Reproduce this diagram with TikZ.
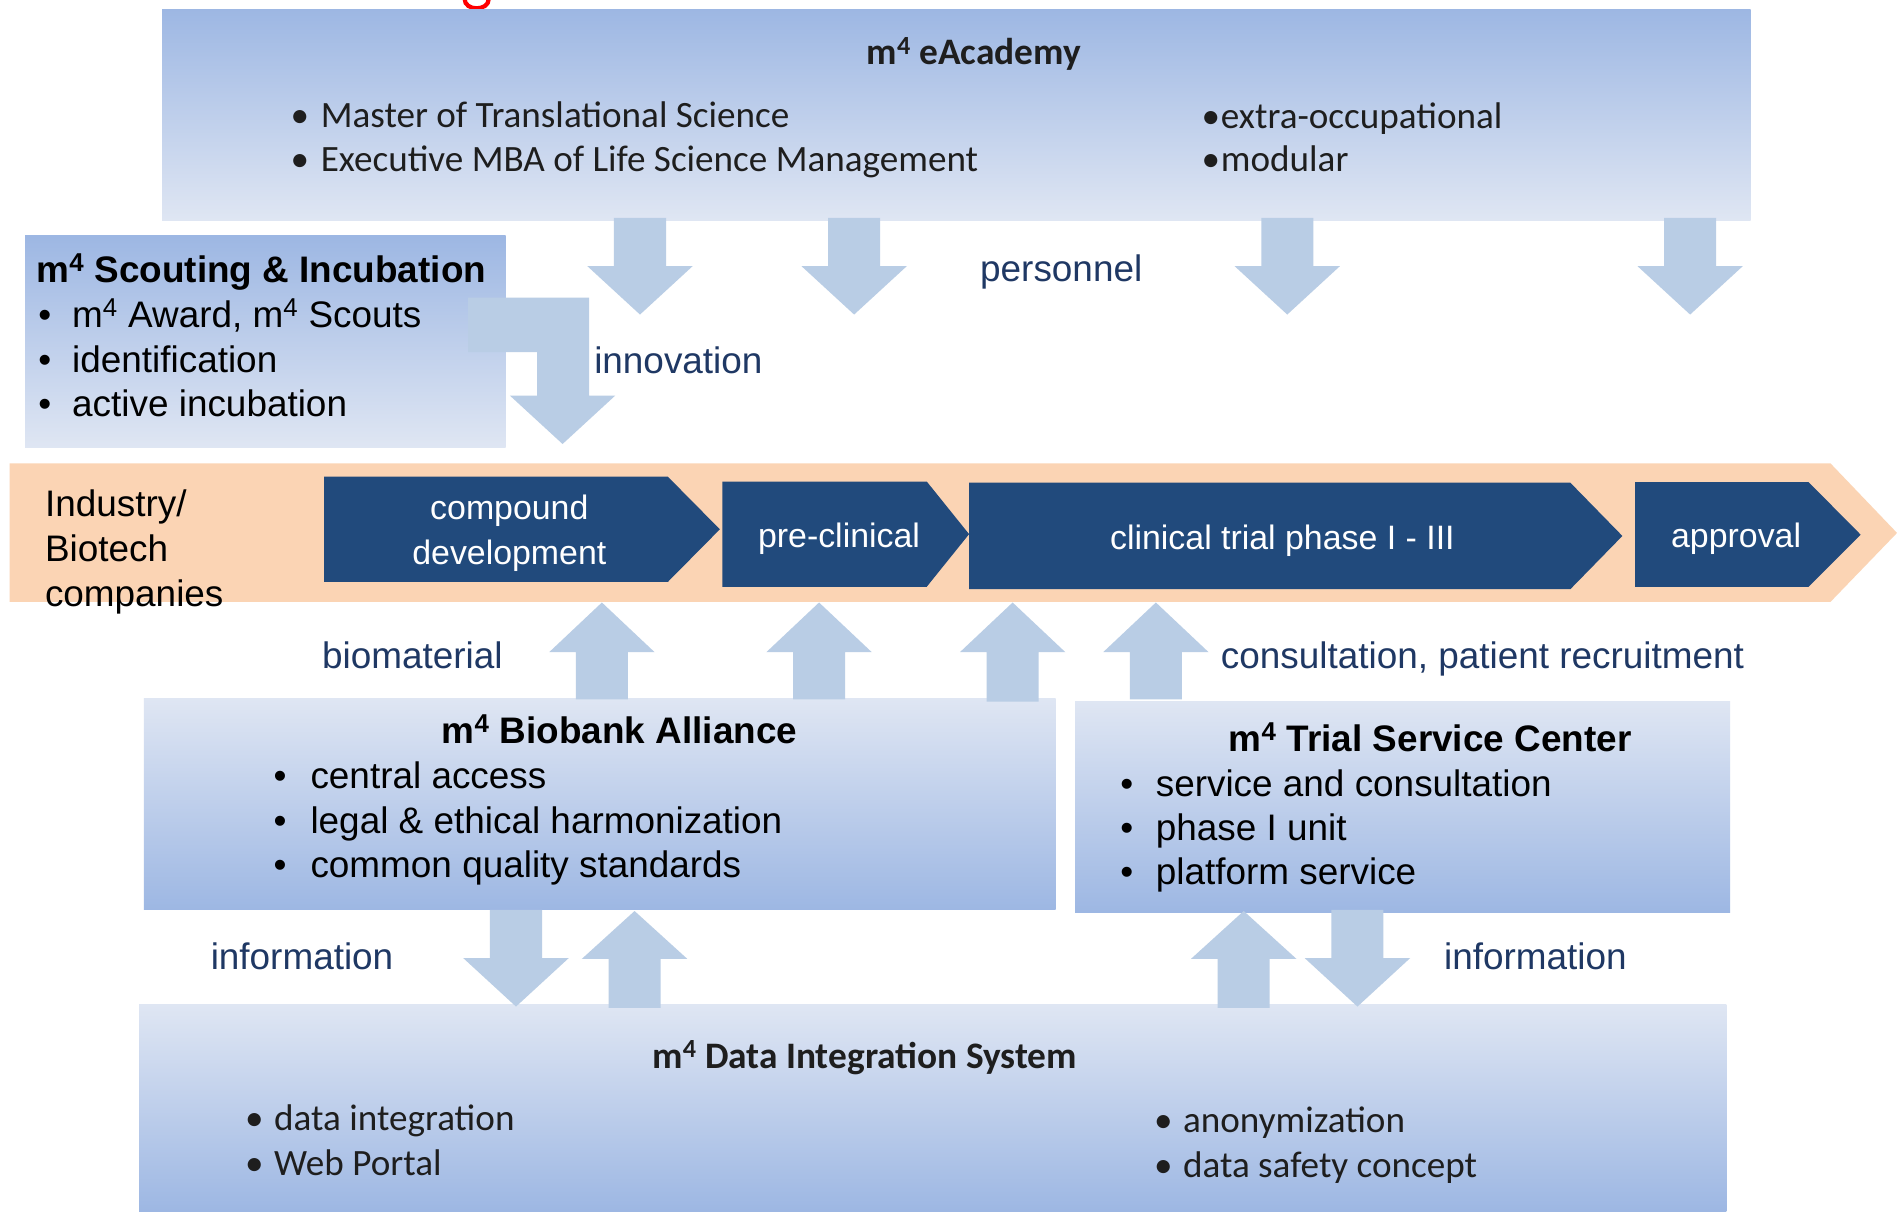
\documentclass[tikz,border=0pt]{standalone}
\usepackage{fontspec}
\setmainfont{Liberation Sans}
\newfontfamily\calib{Carlito}
\definecolor{boxdark}{HTML}{9DB7E3}
\definecolor{boxlight}{HTML}{DFE6F3}
\definecolor{arrowblue}{HTML}{B9CDE5}
\definecolor{bandorange}{HTML}{FBD4B4}
\definecolor{chevblue}{HTML}{214A7C}
\definecolor{labelblue}{HTML}{1F3864}
\definecolor{textdark}{HTML}{1E1E1E}
\newcommand\bl[1]{\makebox[#1pt][l]{•}}
\newcommand\fatdown[4]{\fill[fat] (#1-21.5,#2) -- (#1+21.5,#2) -- (#1+21.5,#3) -- (#1+43.5,#3) -- (#1,#4) -- (#1-43.5,#3) -- (#1-21.5,#3) -- cycle;}
\newcommand\fatup[4]{\fill[fat] (#1-21.5,#2) -- (#1+21.5,#2) -- (#1+21.5,#3) -- (#1+43.5,#3) -- (#1,#4) -- (#1-43.5,#3) -- (#1-21.5,#3) -- cycle;}
\tikzset{
  lbl/.style={font={\fontsize{30.5}{37}\selectfont}, text=labelblue, inner sep=0, anchor=base west},
  txt/.style={font={\fontsize{30.5}{37}\selectfont}, text=black, inner sep=0, anchor=base west},
  hdr/.style={font={\fontsize{30.5}{37}\selectfont\bfseries}, text=black, inner sep=0, anchor=base west},
  ctx/.style={font={\calib\fontsize{30.7}{37}\selectfont}, text=textdark, inner sep=0, anchor=base west},
  ctxb/.style={font={\calib\fontsize{30.9}{37}\selectfont\bfseries}, text=textdark, inner sep=0, anchor=base west},
  chevtxt/.style={font={\fontsize{28}{37}\selectfont}, text=white, inner sep=0, anchor=base},
  chev/.style={fill=chevblue},
  fat/.style={fill=arrowblue},
  darktop/.style={top color=boxdark, bottom color=boxlight},
  lighttop/.style={top color=boxlight, bottom color=boxdark},
}
\begin{document}
\begin{tikzpicture}[x=1pt, y=-1pt]
\useasboundingbox (0,0) rectangle (1568,1001);
\fill[white] (0,0) rectangle (1568,1001);

% red fragment of a cut-off title
\draw[red, line width=3.5pt] (384,-1) .. controls (384,9.5) and (404,9.5) .. (404,-1);

% eAcademy
\shade[darktop] (134,7.5) rectangle (1447,182);
\node[ctxb, anchor=base] (eatitle) at (805,53.7) {m\textsuperscript{4} eAcademy};
\node[ctx] (ea1) at (240,105.5) {\bl{25}Master of Translational Science};
\node[ctx] (ea2) at (240,141.9) {\bl{25}Executive MBA of Life Science Management};
\node[ctx] (ea3) at (993,106.1) {\bl{16}extra-occupational};
\node[ctx] (ea4) at (993,141.9) {\bl{16}modular};

% Scouting & Incubation
\shade[darktop] (20.7,195) rectangle (418,370);
\node[hdr] (sctitle) at (30,233.7) {m\textsuperscript{4} Scouting \& Incubation};
\node[txt] (sc1) at (31.5,270.6) {\bl{28}m\textsuperscript{4} Award, m\textsuperscript{4} Scouts};
\node[txt] (sc2) at (31.5,307.8) {\bl{28}identification};
\node[txt] (sc3) at (31.5,344.4) {\bl{28}active incubation};

% down arrows from eAcademy
\fatdown{529}{180}{220}{260}
\fatdown{706}{180}{220}{260}
\fatdown{1064}{180}{220}{260}
\fatdown{1397}{180}{220}{260}
\node[lbl] (personnel) at (810,232.8) {personnel};

% bent arrow (innovation)
\fill[fat] (387,246) -- (487,246) -- (487,327) -- (508.5,327) -- (465,367) -- (421.5,327) -- (444,327) -- (444,291) -- (387,291) -- cycle;
\node[lbl] (innovation) at (491,308.6) {innovation};

% orange band
\fill[bandorange] (8,383) -- (1513,383) -- (1568,440.5) -- (1513,497.5) -- (8,497.5) -- cycle;
\node[txt] (ind1) at (37,427.1) {Industry/};
\node[txt] (ind2) at (37,464.3) {Biotech};
\node[txt] (ind3) at (37,501.5) {companies};

% chevrons
\fill[chev] (268,394) -- (552,394) -- (595,437.5) -- (552,481) -- (268,481) -- cycle;
\fill[chev] (597,398) -- (766,398) -- (801,441.5) -- (766,485) -- (597,485) -- cycle;
\fill[chev] (801,399) -- (1298,399) -- (1341,443) -- (1298,487) -- (801,487) -- cycle;
\fill[chev] (1351.6,398.6) -- (1495,398.6) -- (1538,442) -- (1495,485) -- (1351.6,485) -- cycle;
\node[chevtxt] (cd1) at (421,429.8) {compound};
\node[chevtxt] (cd2) at (421,467) {development};
\node[chevtxt] (pc) at (693.5,452.4) {pre-clinical};
\node[chevtxt] (ct) at (1060,454) {clinical trial phase I - III};
\node[chevtxt] (ap) at (1435,452.4) {approval};

% Biobank Alliance
\shade[lighttop] (119,577) rectangle (872.5,752);
\node[hdr] (bbtitle) at (365,614.7) {m\textsuperscript{4} Biobank Alliance};
\node[txt] (bb1) at (226,651.7) {\bl{30.5}central access};
\node[txt] (bb2) at (226,688.6) {\bl{30.5}legal \& ethical harmonization};
\node[txt] (bb3) at (226,725) {\bl{30.5}common quality standards};

% Trial Service Center
\shade[lighttop] (888.6,579.5) rectangle (1430,754);
\node[hdr] (tstitle) at (1015.5,621.4) {m\textsuperscript{4} Trial Service Center};
\node[txt] (ts1) at (925.8,658.6) {\bl{29.4}service and consultation};
\node[txt] (ts2) at (925.8,695) {\bl{29.4}phase I unit};
\node[txt] (ts3) at (925.8,731.5) {\bl{29.4}platform service};

% up arrows into the band
\fatup{497.5}{578}{539}{498}
\fatup{677}{578}{539}{498}
\fatup{837}{580}{539}{498}
\fatup{955.4}{578}{539}{498}
\node[lbl] (biomaterial) at (266,552.4) {biomaterial};
\node[lbl] (consult) at (1009,552.4) {consultation, patient recruitment};

% Data Integration System
\shade[lighttop] (115,830) rectangle (1427,1001);
\node[ctxb] (dititle) at (539,883.5) {m\textsuperscript{4} Data Integration System};
\node[ctx] (di1) at (202.5,934.4) {\bl{24}data integration};
\node[ctx] (di2) at (202.5,971.6) {\bl{24}Web Portal};
\node[ctx] (di3) at (953.7,936.4) {\bl{24}anonymization};
\node[ctx] (di4) at (953.7,973.5) {\bl{24}data safety concept};

% information arrows
\fatdown{426.5}{752}{792}{832}
\fatup{524.5}{833}{792.5}{753}
\fatup{1028}{833}{792.5}{753}
\fatdown{1122}{752}{792}{832}
\node[lbl] (info1) at (174,801.4) {information};
\node[lbl] (info2) at (1193.5,801.4) {information};
\end{tikzpicture}
\end{document}
